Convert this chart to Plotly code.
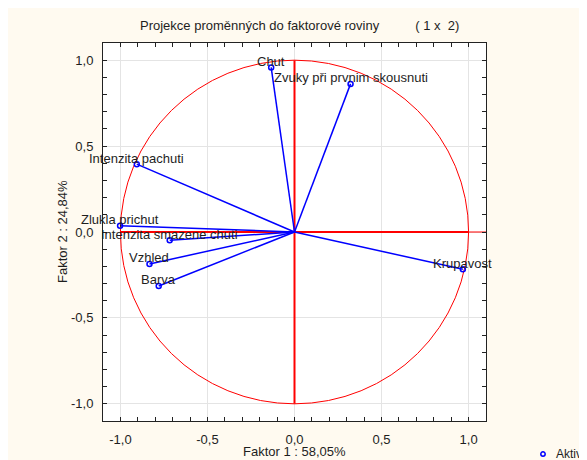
import plotly.graph_objects as go

# Factor loadings (Faktor 1, Faktor 2)
variables = ["Chut", "Zvuky při prvnim skousnuti", "Intenzita pachuti", "Zlukla prichut",
             "Intenzita smazene chuti", "Vzhled", "Barva", "Krupavost"]
factor1 = [-0.134, 0.322, -0.906, -1.002, -0.717, -0.833, -0.780, 0.967]
factor2 = [0.958, 0.862, 0.395, 0.037, -0.048, -0.186, -0.314, -0.217]

tick_vals = [-1.0, -0.5, 0.0, 0.5, 1.0]
tick_text = ["-1,0", "-0,5", "0,0", "0,5", "1,0"]

title_text = "Projekce proměnných do faktorové roviny" + "\u00a0" * 10 + "(\u00a01\u00a0x\u00a0\u00a02)"
x_title = "Faktor 1 : 58,05%"
y_title = "Faktor 2 : 24,84%"
legend_text = "Aktiv."

FONT = "Liberation Sans, Arial, sans-serif"
TXT = "#1e1e1e"
BLUE = "#0000ff"
RED = "#ff0000"

fig = go.Figure()

# Vectors from origin
for xv, yv in zip(factor1, factor2):
    fig.add_trace(go.Scatter(x=[0, xv], y=[0, yv], mode="lines",
                             line=dict(color=BLUE, width=1.5),
                             showlegend=False, hoverinfo="skip"))

fig.add_trace(go.Scatter(x=factor1, y=factor2, mode="markers",
                         marker=dict(symbol="circle-open", size=5, color=BLUE,
                                     line=dict(width=1.5, color=BLUE)),
                         showlegend=False, text=variables))

for name, xv, yv in zip(variables, factor1, factor2):
    fig.add_annotation(x=xv, y=yv, text=name, showarrow=False, xanchor="center",
                       yanchor="middle", yshift=6,
                       font=dict(family=FONT, size=13, color=TXT))

shapes = [
    # unit circle
    dict(type="circle", xref="x", yref="y", x0=-1, y0=-1, x1=1, y1=1,
         line=dict(color=RED, width=1), layer="between"),
    dict(type="line", xref="x", yref="y", x0=0, y0=-1, x1=0, y1=1,
         line=dict(color=RED, width=2), layer="between"),
    dict(type="line", xref="x", yref="y", x0=-1, y0=0, x1=1, y1=0,
         line=dict(color=RED, width=2), layer="between"),
    dict(type="line", xref="x", yref="y", x0=1, y0=0, x1=1.1, y1=0,
         line=dict(color=RED, width=1), layer="between"),
    # legend marker
    dict(type="circle", xref="paper", yref="paper", xsizemode="pixel", ysizemode="pixel",
         xanchor=1.1488, yanchor=-0.0873, x0=-2.2, x1=2.2, y0=-2.2, y1=2.2,
         line=dict(color=BLUE, width=1.5)),
]

fig.add_annotation(xref="paper", yref="paper", x=1.1775, y=-0.0873, text=legend_text,
                   showarrow=False, xanchor="left", yanchor="middle",
                   font=dict(family=FONT, size=12, color=TXT))
fig.add_annotation(xref="paper", yref="paper", x=0.514, y=1.0476, text=title_text,
                   showarrow=False, xanchor="center", yanchor="middle",
                   font=dict(family=FONT, size=13, color=TXT))
fig.add_annotation(xref="paper", yref="paper", x=0.4987, y=-0.082, text=x_title,
                   showarrow=False, xanchor="center", yanchor="middle",
                   font=dict(family=FONT, size=13, color=TXT))
fig.add_annotation(xref="paper", yref="paper", x=-0.107, y=0.5, text=y_title,
                   showarrow=False, xanchor="center", yanchor="middle", textangle=-90,
                   font=dict(family=FONT, size=13, color=TXT))

axis_common = dict(
    range=[-1.1, 1.1], tickvals=tick_vals, ticktext=tick_text,
    showgrid=True, gridcolor="#e4e4e4", gridwidth=1, zeroline=False,
    showline=True, linecolor="#222222", linewidth=1, mirror="ticks",
    ticks="inside", ticklen=4, tickcolor="#222222",
    minor=dict(dtick=0.1, tick0=0, ticks="inside", ticklen=4, tickcolor="#222222", showgrid=False),
    tickfont=dict(family=FONT, size=13, color=TXT),
)

fig.update_layout(
    width=579, height=452,
    margin=dict(l=95, r=101, t=35, b=39),
    paper_bgcolor="#fffaf0", plot_bgcolor="white",
    xaxis=dict(**axis_common, ticklabelstandoff=6),
    yaxis=dict(**axis_common, ticklabelstandoff=6),
    shapes=shapes, showlegend=False,
)

fig.write_html("out.html")
